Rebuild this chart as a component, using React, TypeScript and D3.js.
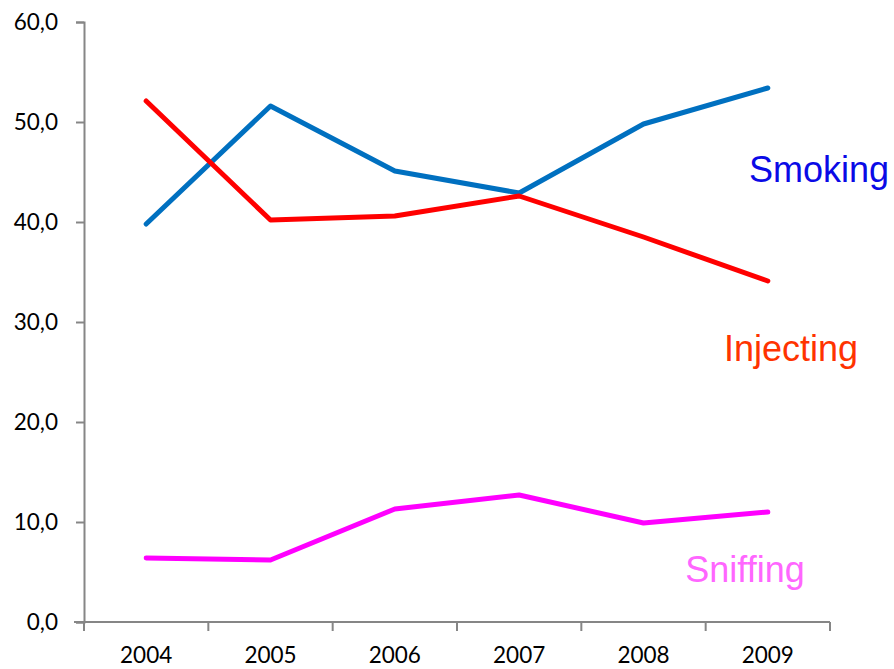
import React, { useEffect, useRef } from 'react';
import * as d3 from 'd3';

const years = ['2004', '2005', '2006', '2007', '2008', '2009'];
const smoking = [39.8, 51.6, 45.1, 42.9, 49.8, 53.4];
const injecting = [52.1, 40.2, 40.6, 42.6, 38.5, 34.1];
const sniffing = [6.4, 6.2, 11.3, 12.7, 9.9, 11.0];
const yTicks = [0, 10, 20, 30, 40, 50, 60];

const seriesList = [
  { name: 'Smoking', values: smoking, color: '#0070c0', labelColor: '#0a0ae6', labelValue: 44.0 },
  { name: 'Injecting', values: injecting, color: '#ff0000', labelColor: '#ff3300', labelValue: 26.1 },
  { name: 'Sniffing', values: sniffing, color: '#ff00ff', labelColor: '#ff66ff', labelValue: 4.0 },
];

const App: React.FC = () => {
  const svgRef = useRef<SVGSVGElement>(null);

  useEffect(() => {
    if (!svgRef.current) return;
    const svg = d3.select(svgRef.current);
    svg.selectAll('*').remove();

    const left = 84, right = 830, top = 22, bottom = 622;

    const x = d3.scaleBand().domain(years).range([left, right]);
    const y = d3.scaleLinear().domain([0, 60]).range([bottom, top]);

    const axisColor = '#868686';
    const tickFont = 'Lato, "Open Sans", sans-serif';

    // Y axis
    const yAxis = svg.append('g')
      .attr('transform', `translate(${left},0)`)
      .call(d3.axisLeft(y).tickValues(yTicks).tickSize(8).tickPadding(18)
        .tickFormat(d => (d as number).toFixed(1).replace('.', ',')));
    yAxis.select('.domain').attr('stroke', axisColor).attr('stroke-width', 2);
    yAxis.selectAll('.tick line').attr('stroke', axisColor).attr('stroke-width', 2);
    yAxis.selectAll('text')
      .attr('fill', '#000')
      .attr('font-family', tickFont)
      .attr('font-size', '22.5px');

    // X axis with ticks at band boundaries
    const xAxisG = svg.append('g').attr('transform', `translate(0,${bottom})`);
    xAxisG.append('line')
      .attr('x1', left - 10).attr('x2', right)
      .attr('stroke', axisColor).attr('stroke-width', 2);
    const bounds = years.map(yr => x(yr)!).concat([right]);
    xAxisG.selectAll('.xt')
      .data(bounds)
      .enter().append('line')
      .attr('class', 'xt')
      .attr('x1', d => d).attr('x2', d => d)
      .attr('y1', 0).attr('y2', 9)
      .attr('stroke', axisColor).attr('stroke-width', 2);
    xAxisG.selectAll('.xl')
      .data(years)
      .enter().append('text')
      .attr('class', 'xl')
      .attr('x', d => x(d)! + x.bandwidth() / 2)
      .attr('y', 41)
      .attr('text-anchor', 'middle')
      .attr('font-family', tickFont)
      .attr('font-size', '22.5px')
      .attr('fill', '#000')
      .text(d => d);

    const line = d3.line<number>()
      .x((_, i) => x(years[i])! + x.bandwidth() / 2)
      .y(d => y(d));

    seriesList.forEach(s => {
      svg.append('path')
        .datum(s.values)
        .attr('fill', 'none')
        .attr('stroke', s.color)
        .attr('stroke-width', 5)
        .attr('stroke-linejoin', 'round')
        .attr('stroke-linecap', 'round')
        .attr('d', line);
    });

    // Series labels
    const labelX: Record<string, number> = { Smoking: 819, Injecting: 791, Sniffing: 745 };
    seriesList.forEach(s => {
      svg.append('text')
        .attr('x', labelX[s.name])
        .attr('y', y(s.labelValue))
        .attr('text-anchor', 'middle')
        .attr('font-family', '"Liberation Sans", Arial, sans-serif')
        .attr('font-size', '36px')
        .attr('fill', s.labelColor)
        .text(s.name);
    });
  }, []);

  return (
    <svg ref={svgRef} width={894} height={669}
      style={{ position: 'absolute', left: 0, top: 0, background: '#fff' }} />
  );
};

export default App;
